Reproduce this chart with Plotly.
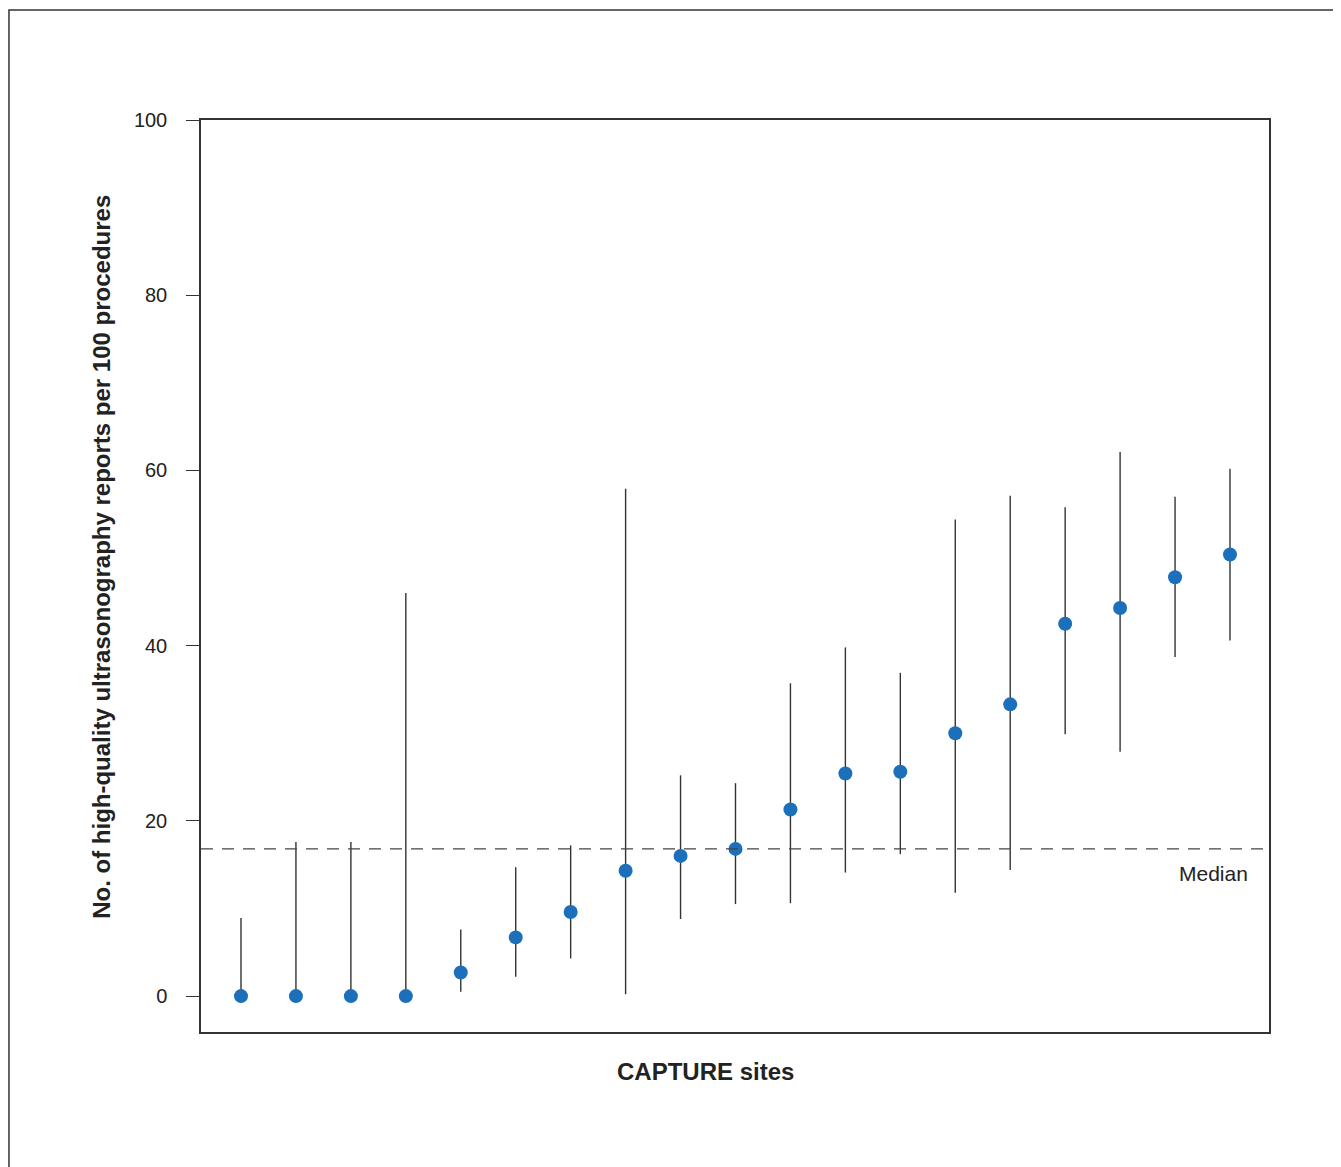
import plotly.graph_objects as go

sites = list(range(1, 20))
rate = [0, 0, 0, 0, 2.7, 6.7, 9.6, 14.3, 16.0, 16.8, 21.3, 25.4, 25.6, 30.0, 33.3, 42.5, 44.3, 47.8, 50.4]
ci_low = [0, 0, 0, 0, 0.5, 2.2, 4.3, 0.2, 8.8, 10.5, 10.6, 14.1, 16.2, 11.8, 14.4, 29.9, 27.9, 38.7, 40.6]
ci_high = [8.9, 17.6, 17.6, 46.0, 7.6, 14.7, 17.2, 57.9, 25.2, 24.3, 35.7, 39.8, 36.9, 54.4, 57.1, 55.8, 62.1, 57.0, 60.2]
median_value = 16.8
y_ticks = [0, 20, 40, 60, 80, 100]

err_plus = [h - r for h, r in zip(ci_high, rate)]
err_minus = [r - l for r, l in zip(rate, ci_low)]

FONT = "Liberation Sans, Arial, Helvetica, sans-serif"
INK = "#222222"

fig = go.Figure()
fig.add_trace(go.Scatter(
    x=sites, y=rate, mode="markers",
    marker=dict(size=14, color="#1b6fbb", line=dict(width=0)),
    error_y=dict(type="data", symmetric=False, array=err_plus, arrayminus=err_minus,
                 width=0, thickness=1.4, color="#333333"),
    showlegend=False,
))

fig.add_hline(y=median_value, line=dict(color="#444444", width=1.4, dash="12px,9px"))

fig.add_annotation(text="Median", x=0.982, xref="paper", y=median_value, yref="y",
                   xanchor="right", yanchor="middle", yshift=-25, showarrow=False,
                   font=dict(family=FONT, size=21, color=INK))

fig.add_annotation(text="<b>No. of high-quality ultrasonography reports per 100 procedures</b>",
                   x=-0.0927, xref="paper", y=0.521, yref="paper", textangle=-90,
                   xanchor="center", yanchor="middle", showarrow=False,
                   font=dict(family=FONT, size=24, color=INK))

fig.add_annotation(text="<b>CAPTURE sites</b>", x=0.472, xref="paper", y=-0.0428, yref="paper",
                   xanchor="center", yanchor="middle", showarrow=False,
                   font=dict(family=FONT, size=24, color=INK))

# outer frame (left and top edges visible, rest falls outside the page)
fig.add_shape(type="rect", xref="paper", yref="paper",
              x0=-0.1798, y0=-0.3, x1=1.3, y1=1.1206,
              line=dict(color="#333333", width=1.5), fillcolor="rgba(0,0,0,0)", layer="below")

fig.update_xaxes(range=[0.272, 19.71], showticklabels=False, ticks="", showgrid=False,
                 zeroline=False, showline=True, mirror=True, linecolor="#333333", linewidth=1.5)
fig.update_yaxes(range=[-4.1, 100], tickvals=y_ticks, ticks="outside", ticklen=13,
                 tickwidth=1.4, tickcolor="#333333", showgrid=False, zeroline=False,
                 showline=True, mirror=True, linecolor="#333333", linewidth=1.5,
                 tickfont=dict(family=FONT, size=20, color=INK), ticklabelstandoff=15)

fig.update_layout(
    width=1333, height=1159,
    margin=dict(l=193, r=72, t=112, b=135),
    paper_bgcolor="white", plot_bgcolor="white",
    font=dict(family=FONT, color=INK),
)

fig.write_html("out.html")
